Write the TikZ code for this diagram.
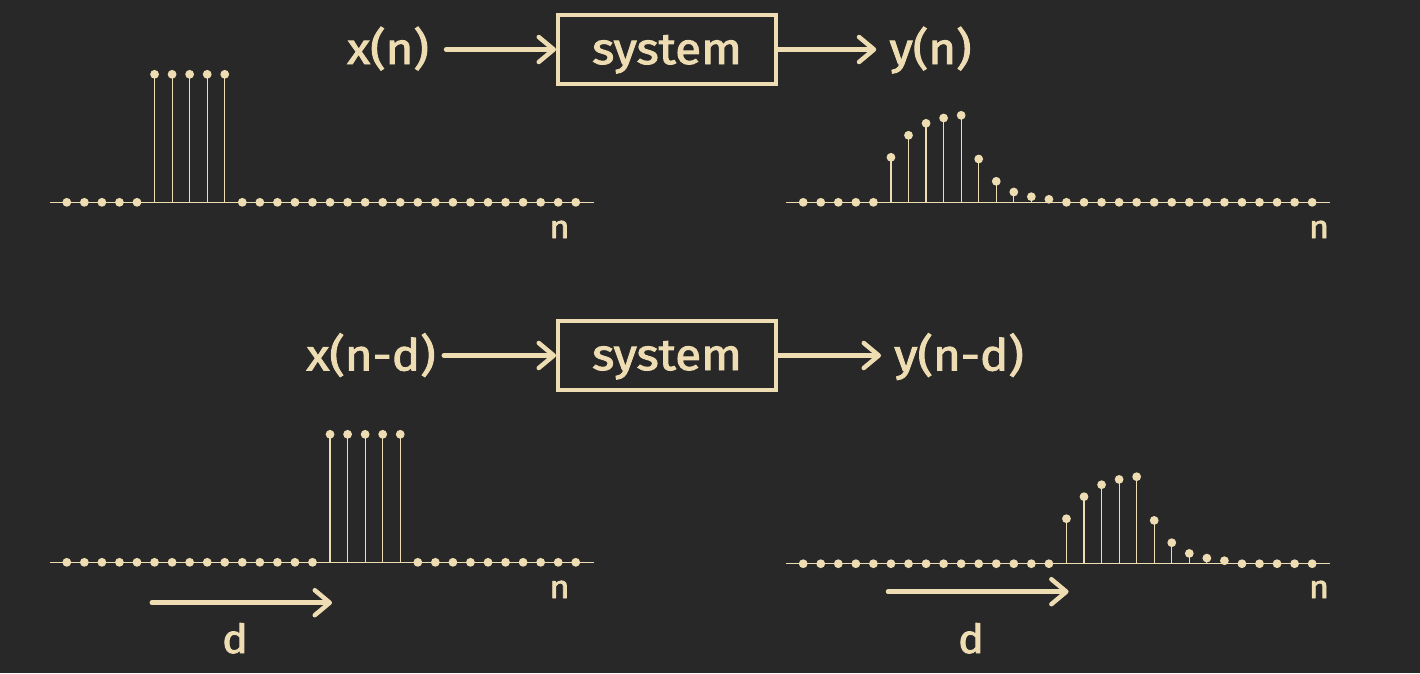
\documentclass[tikz,border=0pt]{standalone}
\usepackage{fontspec}
\setmainfont{Fira Sans}[FakeStretch=1.08, FakeBold=2.2]
\usetikzlibrary{arrows.meta,calc}
\definecolor{bg}{HTML}{282828}
\definecolor{ink}{HTML}{EEDDB3}
\tikzset{
  axisline/.style={draw=ink, line width=1.3pt},
  stemline/.style={draw=ink, line width=1.2pt},
  bigtxt/.style={text=ink, inner sep=0pt, anchor=base, font=\fontsize{44}{48}\selectfont},
  ntxt/.style={text=ink, inner sep=0pt, anchor=base, font=\fontsize{32}{36}\selectfont},
  dtxt/.style={text=ink, inner sep=0pt, anchor=base, font=\fontsize{40}{44}\selectfont},
  sysbox/.style={draw=ink, line width=4pt, minimum width=218pt, minimum height=69pt,
    text=ink, inner sep=0pt, text height=35pt, text depth=6pt, font=\fontsize{44}{48}\selectfont},
  flow/.style={draw=ink, line width=4.5pt, line cap=round,
    -{Straight Barb[length=15pt,width=25pt,round]}},
}
\newcommand\stemplot[3]{%
  \draw[axisline] ({#1-17},#2) -- ({#1+527},#2);
  \foreach \h [count=\k from 0] in {#3} {
    \draw[stemline] ({#1+17.55*\k},#2) -- ({#1+17.55*\k},{#2-\h});
    \fill[ink] ({#1+17.55*\k},{#2-\h}) circle[radius=4.4pt];
  }%
}
\begin{document}
\begin{tikzpicture}[x=1pt,y=-1pt]
\fill[bg] (0,0) rectangle (1420,673);
\useasboundingbox (0,0) rectangle (1420,673);

% ---- top block diagram
\node[sysbox] (sys1) at (667,49.5) {system};
\node[bigtxt] (xn) at (388,64) {x(n)};
\node[bigtxt] (yn) at (930.5,64) {y(n)};
\draw[flow] ($(sys1.west -| xn.east)+(17,0)$) -- (sys1.west);
\draw[flow] (sys1.east) -- ($(sys1.east -| yn.west)+(-13,0)$);

% ---- bottom block diagram
\node[sysbox] (sys2) at (667,355.5) {system};
\node[bigtxt] (xnd) at (371,370.5) {x(n-d)};
\node[bigtxt] (ynd) at (959,370.5) {y(n-d)};
\draw[flow] ($(sys2.west -| xnd.east)+(8,0)$) -- (sys2.west);
\draw[flow] (sys2.east) -- ($(sys2.east -| ynd.west)+(-13,0)$);

% ---- stem plots
\stemplot{66.8}{202.3}{0,0,0,0,0,128,128,128,128,128,0,0,0,0,0,0,0,0,0,0,0,0,0,0,0,0,0,0,0,0}
\stemplot{803.2}{202.3}{0,0,0,0,0,45,67,79,84.3,87,43.3,21,10.3,5.6,3,0,0,0,0,0,0,0,0,0,0,0,0,0,0,0}
\stemplot{66.8}{562.3}{0,0,0,0,0,0,0,0,0,0,0,0,0,0,0,128,128,128,128,128,0,0,0,0,0,0,0,0,0,0}
\stemplot{803.2}{563.7}{0,0,0,0,0,0,0,0,0,0,0,0,0,0,0,45,67,79,84.3,87,43.3,21,10.3,5.6,3,0,0,0,0,0}

\node[ntxt] (n1) at (559.5,238) {n};
\node[ntxt] (n2) at (1319,238) {n};
\node[ntxt] (n3) at (559.5,598) {n};
\node[ntxt] (n4) at (1319,598) {n};

% ---- shift arrows
\coordinate (d1s) at (151.8,602.7);
\coordinate (d1e) at (332,602.7);
\draw[flow] (d1s) -- (d1e);
\node[dtxt] (d1) at (235,653) {d};
\coordinate (d2s) at (888,591.7);
\coordinate (d2e) at (1068.6,591.7);
\draw[flow] (d2s) -- (d2e);
\node[dtxt] (d2) at (971,653) {d};
\end{tikzpicture}
\end{document}
